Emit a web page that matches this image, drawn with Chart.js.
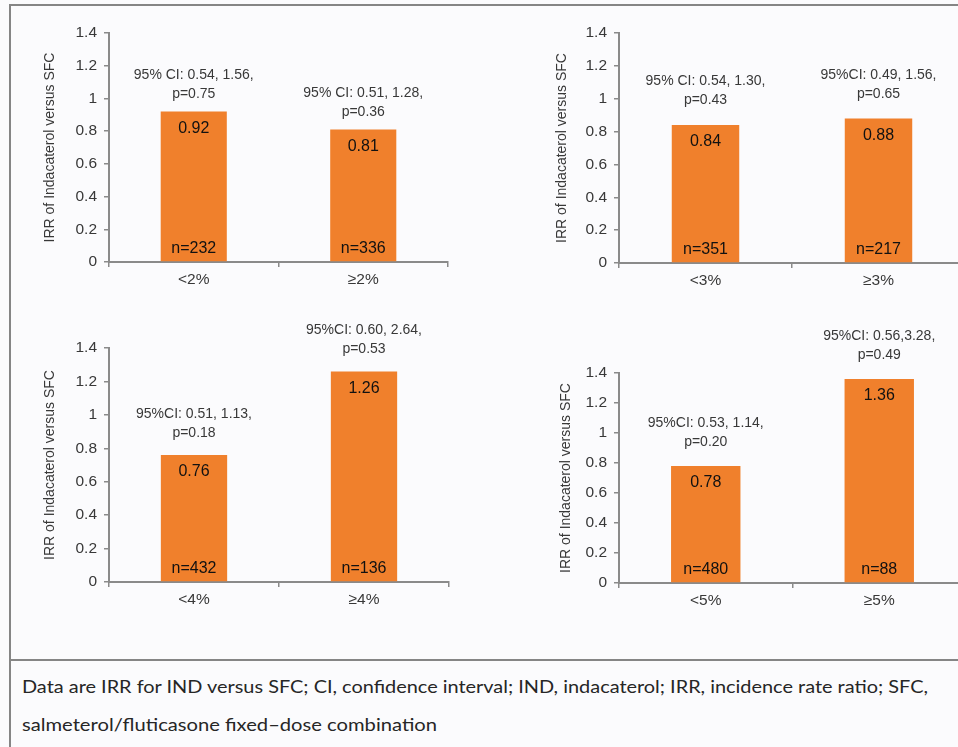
<!DOCTYPE html>
<html><head><meta charset="utf-8">
<script src="https://cdn.jsdelivr.net/npm/chart.js@4.4.1/dist/chart.umd.min.js"></script>
<style>
html,body{margin:0;padding:0;background:#fbfbfd;overflow:hidden;width:958px;height:747px;position:relative;}
.ln{position:absolute;background:#858585;}
canvas{position:absolute;}
.cap{position:absolute;left:22px;font-family:Lato,"Open Sans",sans-serif;font-size:17px;line-height:20px;color:#262626;white-space:nowrap;transform-origin:0 50%;}
</style></head>
<body>
<div class="ln" style="left:9px;top:4px;width:960px;height:2px"></div>
<div class="ln" style="left:9px;top:4px;width:2px;height:760px"></div>
<div class="ln" style="left:9px;top:659px;width:960px;height:2px"></div>
<canvas id="c1"></canvas><canvas id="c2"></canvas><canvas id="c3"></canvas><canvas id="c4"></canvas>
<div class="cap" id="cap1" style="top:677px">Data are IRR for IND versus SFC; CI, confidence interval; IND, indacaterol; IRR, incidence rate ratio; SFC,</div>
<div class="cap" id="cap2" style="top:715px">salmeterol/fluticasone fixed–dose combination</div>
<script>
// ---- data ----
const yTitle = 'IRR of Indacaterol versus SFC';
const yTickLabels = ['0','0.2','0.4','0.6','0.8','1','1.2','1.4'];

const categories1 = ['<2%', '≥2%'];
const irr1 = [0.92, 0.81];
const n1 = ['n=232', 'n=336'];
const ci1 = ['95% CI: 0.54, 1.56,', '95% CI: 0.51, 1.28,'];
const p1 = ['p=0.75', 'p=0.36'];

const categories2 = ['<3%', '≥3%'];
const irr2 = [0.84, 0.88];
const n2 = ['n=351', 'n=217'];
const ci2 = ['95% CI: 0.54, 1.30,', '95%CI: 0.49, 1.56,'];
const p2 = ['p=0.43', 'p=0.65'];

const categories3 = ['<4%', '≥4%'];
const irr3 = [0.76, 1.26];
const n3 = ['n=432', 'n=136'];
const ci3 = ['95%CI: 0.51, 1.13,', '95%CI: 0.60, 2.64,'];
const p3 = ['p=0.18', 'p=0.53'];

const categories4 = ['<5%', '≥5%'];
const irr4 = [0.78, 1.36];
const n4 = ['n=480', 'n=88'];
const ci4 = ['95%CI: 0.53, 1.14,', '95%CI: 0.56,3.28,'];
const p4 = ['p=0.20', 'p=0.49'];

// ---- drawing ----
const FONT = '"Liberation Sans", Arial, sans-serif';
const BAR = '#f0802c';
const AXIS = '#8a8a8a';
const TXT = '#383838';
const XH = 30;

const labelPlugin = {
  id: 'barLabels',
  afterDatasetsDraw(chart, args, opts) {
    const ctx = chart.ctx;
    const meta = chart.getDatasetMeta(0);
    const zero = chart.scales.y.getPixelForValue(0);
    const vals = chart.data.datasets[0].data;
    meta.data.forEach((bar, i) => {
      ctx.save();
      ctx.textAlign = 'center';
      ctx.textBaseline = 'middle';
      ctx.fillStyle = '#111';
      ctx.font = '16px ' + FONT;
      ctx.fillText(vals[i].toFixed(2), bar.x, bar.y + 17);
      ctx.fillText(opts.n[i], bar.x, zero - 13);
      ctx.fillStyle = TXT;
      ctx.font = '14px ' + FONT;
      ctx.fillText(opts.ci[i], bar.x, bar.y - opts.gap - 19);
      ctx.fillText(opts.p[i], bar.x, bar.y - opts.gap);
      ctx.restore();
    });
  }
};

function makeChart(id, rect, tgt, cats, vals, n, ci, p, barPct, gap) {
  const cv = document.getElementById(id);
  cv.width = rect.w; cv.height = rect.h;
  cv.style.left = rect.left + 'px'; cv.style.top = rect.top + 'px';
  cv.style.width = rect.w + 'px'; cv.style.height = rect.h + 'px';
  return new Chart(cv, {
    type: 'bar',
    data: { labels: cats, datasets: [{ data: vals, backgroundColor: BAR, borderWidth: 0,
      categoryPercentage: 1, barPercentage: barPct }] },
    plugins: [labelPlugin],
    options: {
      responsive: false, animation: false, devicePixelRatio: 1,
      layout: { padding: { left: 0, top: tgt.T - rect.top, right: rect.left + rect.w - tgt.R,
        bottom: rect.top + rect.h - tgt.B - XH } },
      plugins: { legend: { display: false }, tooltip: { enabled: false },
        barLabels: { n: n, ci: ci, p: p, gap: gap } },
      scales: {
        x: {
          offset: true,
          grid: { display: true, offset: true, drawOnChartArea: false, drawTicks: true, tickLength: 5, color: AXIS, lineWidth: 1.5 },
          border: { color: AXIS, width: 2 },
          ticks: { color: TXT, font: { size: 15.5, family: FONT }, padding: 3 },
          afterFit: (s) => { s.height = XH; }
        },
        y: {
          min: 0, max: 1.4,
          ticks: { stepSize: 0.2, color: TXT, font: { size: 15.5, family: FONT }, padding: 7,
            callback: (v) => yTickLabels[Math.round(v / 0.2)] },
          grid: { drawOnChartArea: false, drawTicks: true, tickLength: 5, color: AXIS, lineWidth: 1.5 },
          border: { color: AXIS, width: 2 },
          title: { display: true, text: yTitle, color: TXT, font: { size: 14, family: FONT },
            padding: { top: tgt.titleX - rect.left - 8.4, bottom: 0 } },
          afterFit: (s) => { s.width = tgt.L - rect.left; }
        }
      }
    }
  });
}

makeChart('c1', {left: 12, top: 6, w: 468, h: 309}, {L: 109, R: 448, T: 33, B: 262, titleX: 50},
  categories1, irr1, n1, ci1, p1, 0.39, 17);
makeChart('c2', {left: 480, top: 6, w: 500, h: 309}, {L: 619, R: 965, T: 33, B: 263, titleX: 562},
  categories2, irr2, n2, ci2, p2, 0.39, 24.5);
makeChart('c3', {left: 12, top: 315, w: 468, h: 343}, {L: 109, R: 449, T: 348, B: 582, titleX: 50},
  categories3, irr3, n3, ci3, p3, 0.39, 22);
makeChart('c4', {left: 480, top: 315, w: 500, h: 343}, {L: 619, R: 966, T: 373, B: 583, titleX: 566},
  categories4, irr4, n4, ci4, p4, 0.40, 23.5);

// fit caption lines to the reference widths
function fitCap(id, w) {
  const el = document.getElementById(id);
  const cur = el.getBoundingClientRect().width;
  if (cur > 0) el.style.transform = 'scaleX(' + (w / cur) + ')';
}
fitCap('cap1', 906);
fitCap('cap2', 415);
</script>
</body></html>
